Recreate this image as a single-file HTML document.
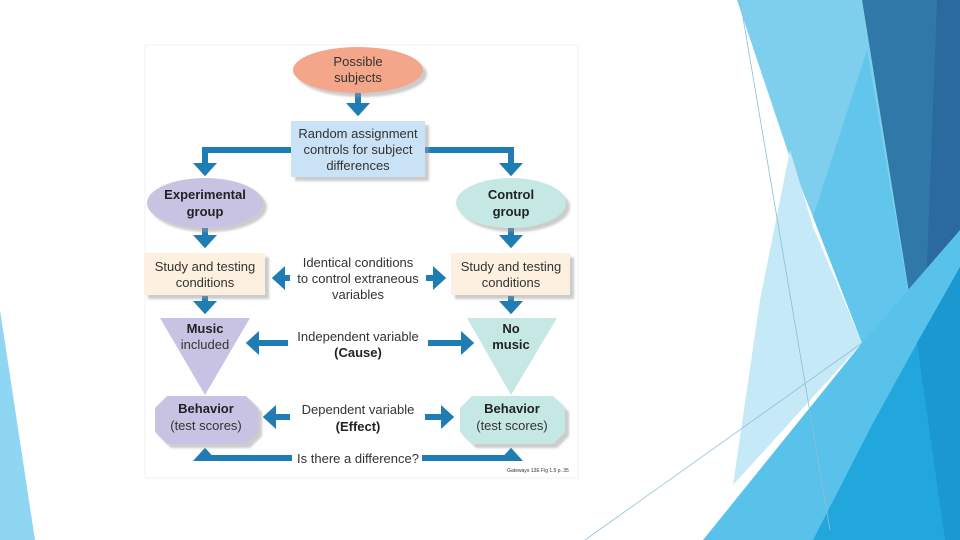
<!DOCTYPE html>
<html><head><style>
html,body{margin:0;padding:0;width:960px;height:540px;overflow:hidden;background:#fff}
svg{display:block}
text{font-family:"Liberation Sans",sans-serif;fill:#333;font-size:13px;text-anchor:middle}
.b{font-weight:bold;fill:#222}
</style></head><body>
<svg width="960" height="540" viewBox="0 0 960 540">
<defs>
<marker id="ah" markerWidth="4" markerHeight="4" refX="1.5" refY="2" orient="auto" markerUnits="strokeWidth">
<path d="M0,0 L2.2,2 L0,4 Z" fill="#1f7db3"/></marker>
<filter id="sh" x="-20%" y="-20%" width="150%" height="150%"><feDropShadow dx="4" dy="4" stdDeviation="1" flood-color="#999" flood-opacity="0.5"/></filter>
</defs>
<!-- right background -->
<polygon points="737,0 862,0 917,343 862,343 833,267 793,167" fill="#7ecfee"/>
<polygon points="867,50 917,343 862,343 813,217" fill="#62c6ec"/>
<polygon points="790,150 813,227 862,343 733,485 780,330 813,227" fill="#c5e9f7"/>
<polygon points="790,150 813,227 780,330 733,485 760,300" fill="#c5e9f7"/>
<polygon points="862,0 960,0 960,240 917,343" fill="#2f78a8"/>
<polygon points="937,0 960,0 960,240 925,320" fill="#2a6a9e"/>
<polygon points="703,540 862,343 960,230 960,540" fill="#58c2ea"/>
<polygon points="813,540 873,423 917,343 960,267 960,540" fill="#22a7dc"/>
<polygon points="917,343 960,267 960,540 945,540" fill="#1b98cf"/>
<line x1="740" y1="0" x2="830" y2="530" stroke="#8cbfd6" stroke-width="0.8"/>
<line x1="585" y1="540" x2="862" y2="343" stroke="#8cbfd6" stroke-width="0.8"/>
<polygon points="0,310 35,540 0,540" fill="#8fd6f2"/>
<!-- diagram frame -->
<rect x="145" y="45" width="433" height="433" fill="#fff" stroke="#f0f0f0"/>
<!-- connectors -->
<g stroke="#1f7db3" stroke-width="6" fill="none" marker-end="url(#ah)">
<line x1="358" y1="93" x2="358" y2="112"/>
<polyline points="291,150 205,150 205,172"/>
<polyline points="425,150 511,150 511,172"/>
<line x1="205" y1="228" x2="205" y2="244"/>
<line x1="511" y1="228" x2="511" y2="244"/>
<line x1="290" y1="278" x2="276" y2="278"/>
<line x1="426" y1="278" x2="442" y2="278"/>
<line x1="205" y1="296" x2="205" y2="310"/>
<line x1="511" y1="296" x2="511" y2="310"/>
<line x1="288" y1="343" x2="250" y2="343"/>
<line x1="428" y1="343" x2="470" y2="343"/>
<line x1="290" y1="417" x2="267" y2="417"/>
<line x1="425" y1="417" x2="450" y2="417"/>
<polyline points="292,458 205,458 205,452"/>
<polyline points="422,458 511,458 511,452"/>
</g>
<!-- nodes -->
<ellipse cx="358" cy="70" rx="65" ry="23" fill="#f4a68a" filter="url(#sh)"/>
<text x="358" y="66">Possible</text><text x="358" y="82">subjects</text>
<rect x="291" y="121" width="134" height="56" fill="#c9e2f5" filter="url(#sh)"/>
<text x="358" y="138">Random assignment</text><text x="358" y="154">controls for subject</text><text x="358" y="170">differences</text>
<ellipse cx="205" cy="203" rx="58" ry="25" fill="#c8c3e3" filter="url(#sh)"/>
<text class="b" x="205" y="199">Experimental</text><text class="b" x="205" y="216">group</text>
<ellipse cx="511" cy="203" rx="55" ry="25" fill="#c5e8e5" filter="url(#sh)"/>
<text class="b" x="511" y="199">Control</text><text class="b" x="511" y="216">group</text>
<rect x="144" y="253" width="121" height="42" fill="#fdf0e0" filter="url(#sh)"/>
<text x="205" y="271">Study and testing</text><text x="205" y="287">conditions</text>
<rect x="451" y="253" width="119" height="42" fill="#fdf0e0" filter="url(#sh)"/>
<text x="511" y="271">Study and testing</text><text x="511" y="287">conditions</text>
<text x="358" y="267">Identical conditions</text><text x="358" y="283">to control extraneous</text><text x="358" y="299">variables</text>
<polygon points="160,318 250,318 205,395" fill="#c8c3e3"/>
<text class="b" x="205" y="333">Music</text><text x="205" y="349">included</text>
<polygon points="467,318 557,318 511,395" fill="#c5e8e5"/>
<text class="b" x="511" y="333">No</text><text class="b" x="511" y="349">music</text>
<text x="358" y="341">Independent variable</text><text class="b" x="358" y="357">(Cause)</text>
<polygon points="167,396 246,396 258,408 258,432 246,444 167,444 155,432 155,408" fill="#c8c3e3" filter="url(#sh)"/>
<text class="b" x="206" y="413">Behavior</text><text x="206" y="430">(test scores)</text>
<polygon points="472,396 553,396 565,408 565,432 553,444 472,444 460,432 460,408" fill="#c5e8e5" filter="url(#sh)"/>
<text class="b" x="512" y="413">Behavior</text><text x="512" y="430">(test scores)</text>
<text x="358" y="414">Dependent variable</text><text class="b" x="358" y="431">(Effect)</text>
<text x="358" y="463">Is there a difference?</text>
<text x="538" y="472" style="font-size:5px">Gateways 13E Fig 1.5 p. 35</text>
</svg>
</body></html>
